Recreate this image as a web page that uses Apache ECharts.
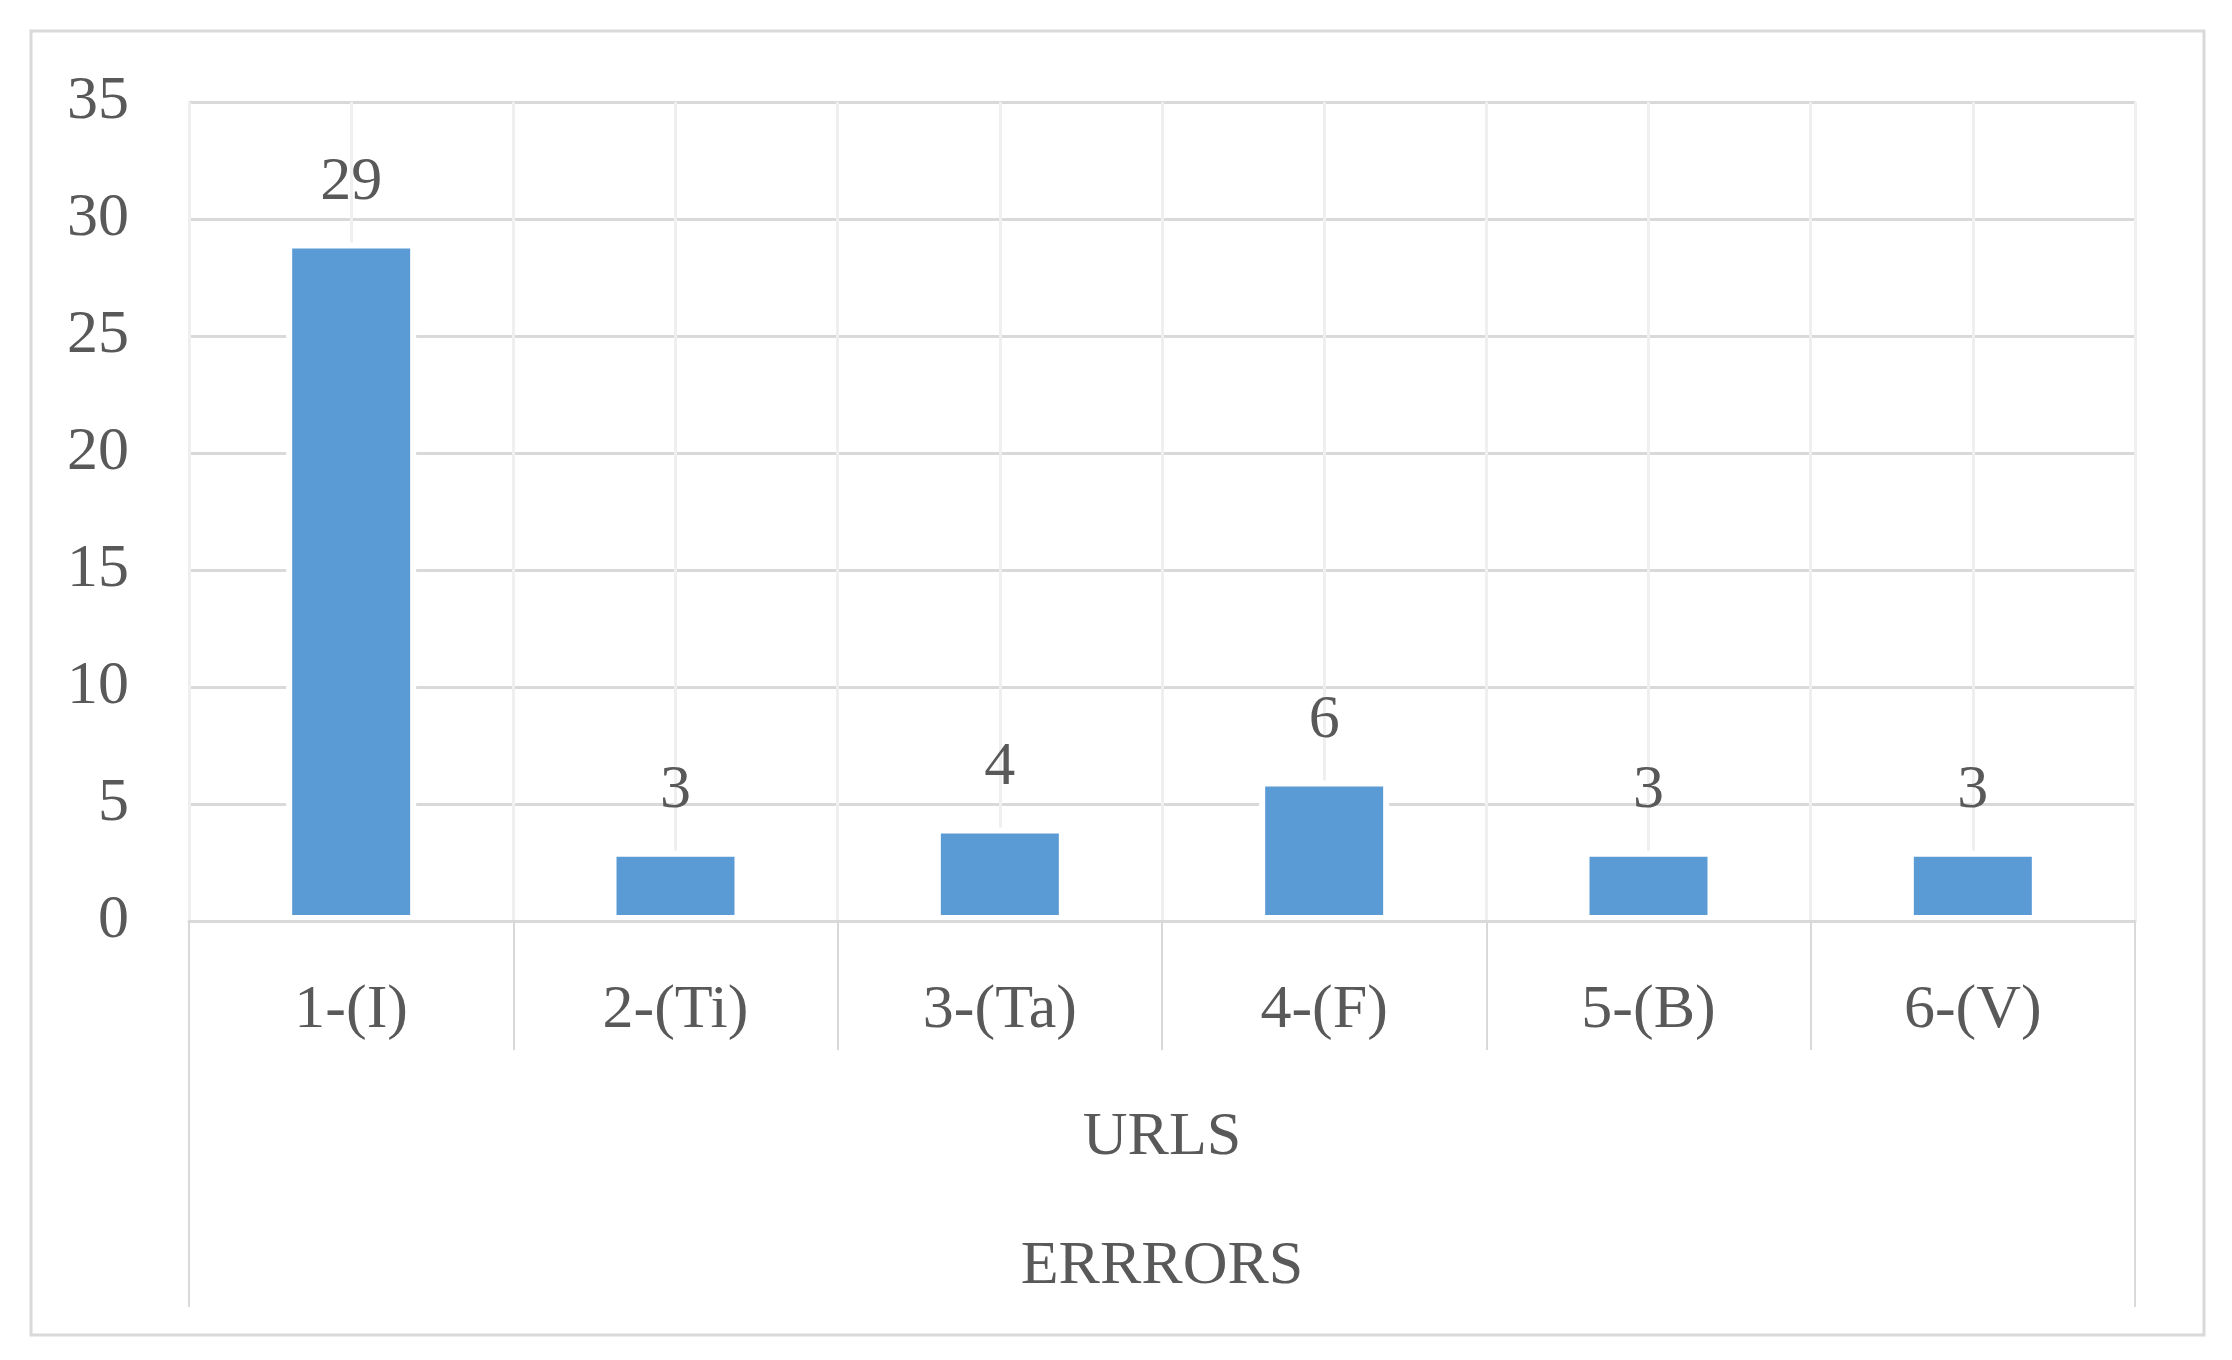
<!DOCTYPE html>
<html>
<head>
<meta charset="utf-8">
<script src="https://cdn.jsdelivr.net/npm/echarts@6/dist/echarts.min.js"></script>
<style>
html,body{margin:0;padding:0;background:#fff;}
#chart{width:2232px;height:1360px;}
</style>
</head>
<body>
<div id="chart"></div>
<script>
var categories = ['1-(I)', '2-(Ti)', '3-(Ta)', '4-(F)', '5-(B)', '6-(V)'];
var errorCounts = [29, 3, 4, 6, 3, 3];
var yTicks = [0, 5, 10, 15, 20, 25, 30, 35];
var axisTitles = ['URLS', 'ERRRORS'];

var FONT = '"Liberation Serif", "Times New Roman", serif';
var TEXT = '#595959';
var GRID = { left: 189, top: 102, right: 97, bottom: 439 };
var plotRight = 2232 - GRID.right;
var plotBottom = 1360 - GRID.bottom;
var midX = (GRID.left + plotRight) / 2;

var chart = echarts.init(document.getElementById('chart'), null, { renderer: 'canvas' });
chart.setOption({
  backgroundColor: '#ffffff',
  animation: false,
  grid: { left: GRID.left, top: GRID.top, right: GRID.right, bottom: GRID.bottom, containLabel: false },
  xAxis: [
    {
      type: 'category',
      data: categories,
      z: 3,
      axisLine: { show: true, lineStyle: { color: '#d9d9d9', width: 3 } },
      axisTick: { show: true, length: 129, lineStyle: { color: '#d9d9d9', width: 2 } },
      axisLabel: { fontFamily: FONT, fontSize: 62, lineHeight: 62, color: TEXT, margin: 59 },
      splitLine: { show: false }
    },
    {
      type: 'value',
      min: 0, max: categories.length, interval: 0.5,
      position: 'bottom',
      axisLine: { show: false }, axisTick: { show: false }, axisLabel: { show: false },
      splitLine: { show: true, lineStyle: { color: '#efefef', width: 3 } }
    }
  ],
  yAxis: {
    type: 'value',
    min: yTicks[0], max: yTicks[yTicks.length - 1], interval: yTicks[1] - yTicks[0],
    axisLine: { show: false }, axisTick: { show: false },
    axisLabel: { fontFamily: FONT, fontSize: 62, color: TEXT, margin: 60 },
    splitLine: { show: true, lineStyle: { color: '#d9d9d9', width: 3 } }
  },
  series: [{
    type: 'bar',
    xAxisIndex: 0,
    data: errorCounts,
    barWidth: 130,
    itemStyle: { color: '#5b9bd5', borderColor: '#ffffff', borderWidth: 6 },
    label: { show: true, position: 'top', distance: 29, fontFamily: FONT, fontSize: 62, lineHeight: 62, color: TEXT }
  }],
  graphic: [
    { type: 'rect', shape: { x: 31, y: 31, width: 2173, height: 1304 }, style: { fill: 'none', stroke: '#d9d9d9', lineWidth: 3 }, silent: true },
    { type: 'line', shape: { x1: GRID.left, y1: plotBottom, x2: GRID.left, y2: 1307 }, style: { stroke: '#d9d9d9', lineWidth: 2 }, silent: true },
    { type: 'line', shape: { x1: plotRight, y1: plotBottom, x2: plotRight, y2: 1307 }, style: { stroke: '#d9d9d9', lineWidth: 2 }, silent: true },
    { type: 'text', x: midX, y: 1138, style: { text: axisTitles[0], font: '62px ' + FONT, fill: TEXT, textAlign: 'center', textVerticalAlign: 'middle' } },
    { type: 'text', x: midX, y: 1267, style: { text: axisTitles[1], font: '62px ' + FONT, fill: TEXT, textAlign: 'center', textVerticalAlign: 'middle' } }
  ]
});
</script>
</body>
</html>
